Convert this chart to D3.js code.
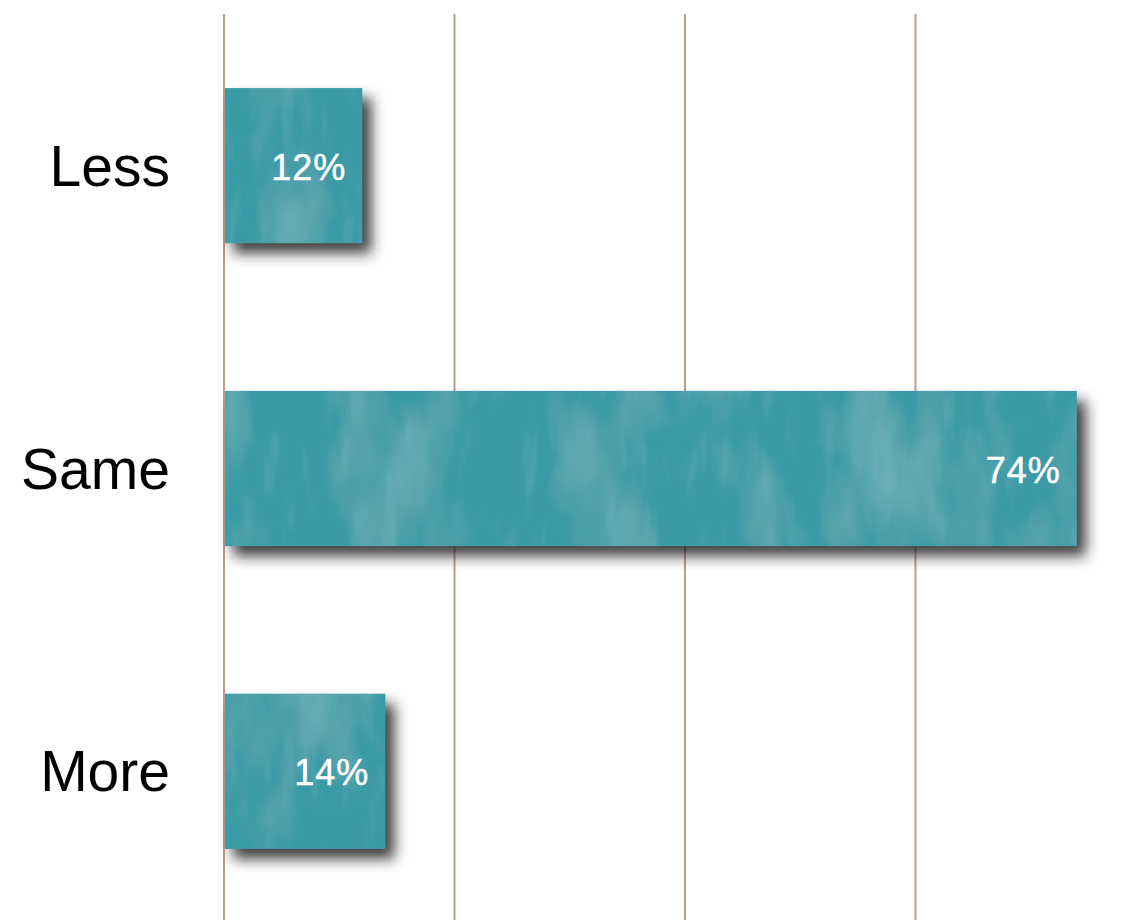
<!DOCTYPE html>
<html>
<head>
<meta charset="utf-8">
<script src="https://cdn.jsdelivr.net/npm/d3@7"></script>
<style>
  html, body { margin: 0; padding: 0; background: #ffffff; }
  svg { display: block; }
</style>
</head>
<body>
<svg id="chart" width="1132" height="920"></svg>
<script>
// Share of respondents per answer
const categories = ["Less", "Same", "More"];
const values = [12, 74, 14];
const valueLabels = ["12%", "74%", "14%"];
const gridTicks = [0, 20, 40, 60];

const W = 1132, H = 920;
const svg = d3.select("#chart");

const x = d3.scaleLinear().domain([0, 80]).range([224, 1146]);
const y = d3.scaleBand().domain(categories).range([14, 923])
  .paddingInner(0.4876).paddingOuter(0.2446);

const defs = svg.append("defs");

// Soft drop shadow behind each bar
const sh = defs.append("filter").attr("id", "shadow")
  .attr("x", "-20%").attr("y", "-30%").attr("width", "150%").attr("height", "170%");
sh.append("feGaussianBlur").attr("in", "SourceGraphic").attr("stdDeviation", 7);

// Painted brush-stroke texture over the teal fill
const tx = defs.append("filter").attr("id", "paint")
  .attr("x", "0").attr("y", "0").attr("width", "100%").attr("height", "100%")
  .attr("filterUnits", "objectBoundingBox");
tx.append("feTurbulence").attr("type", "fractalNoise")
  .attr("baseFrequency", "0.012 0.005").attr("numOctaves", 4).attr("seed", 7)
  .attr("result", "noise");
tx.append("feColorMatrix").attr("in", "noise").attr("type", "matrix")
  .attr("values", "0 0 0 0 0.45  0 0 0 0 0.72  0 0 0 0 0.72  0.7 0 0 0 -0.33")
  .attr("result", "light");
tx.append("feComposite").attr("in", "light").attr("in2", "SourceAlpha")
  .attr("operator", "in").attr("result", "lightClip");
tx.append("feTurbulence").attr("type", "turbulence")
  .attr("baseFrequency", "0.05 0.012").attr("numOctaves", 2).attr("seed", 3)
  .attr("result", "streak");
tx.append("feColorMatrix").attr("in", "streak").attr("type", "matrix")
  .attr("values", "0 0 0 0 0.18  0 0 0 0 0.50  0 0 0 0 0.55  0 0 0 0.5 -0.15")
  .attr("result", "dark");
tx.append("feComposite").attr("in", "dark").attr("in2", "SourceAlpha")
  .attr("operator", "in").attr("result", "darkClip");
const mg = tx.append("feMerge");
mg.append("feMergeNode").attr("in", "SourceGraphic");
mg.append("feMergeNode").attr("in", "darkClip");
mg.append("feMergeNode").attr("in", "lightClip");

// Vertical gridlines
svg.append("g").selectAll("line").data(gridTicks).join("line")
  .attr("x1", d => x(d)).attr("x2", d => x(d))
  .attr("y1", 14).attr("y2", H)
  .attr("stroke", "#b99d91").attr("stroke-width", 2);

const rows = categories.map((c, i) => ({ c, v: values[i], label: valueLabels[i] }));

// Shadows
svg.append("g").selectAll("rect").data(rows).join("rect")
  .attr("x", x(0) + 9).attr("y", d => y(d.c) + 10)
  .attr("width", d => x(d.v) - x(0)).attr("height", y.bandwidth())
  .attr("fill", "#1a1a1a").attr("opacity", 0.85)
  .attr("filter", "url(#shadow)");

// Bars
svg.append("g").selectAll("rect").data(rows).join("rect")
  .attr("x", x(0) + 1).attr("y", d => y(d.c))
  .attr("width", d => x(d.v) - x(0) - 1).attr("height", y.bandwidth())
  .attr("fill", "#3a9aa6")
  .attr("filter", "url(#paint)");

// Value labels inside bar ends
svg.append("g").selectAll("text").data(rows).join("text")
  .attr("x", d => x(d.v) - 16)
  .attr("y", d => y(d.c) + y.bandwidth() / 2 + 14)
  .attr("text-anchor", "end")
  .attr("fill", "#ffffff")
  .attr("font-family", "'Liberation Sans', Arial, sans-serif")
  .attr("font-size", 36)
  .attr("letter-spacing", 1)
  .attr("stroke", "#ffffff").attr("stroke-width", 0.5)
  .text(d => d.label);

// Category labels
svg.append("g").selectAll("text").data(rows).join("text")
  .attr("x", 170)
  .attr("y", d => y(d.c) + y.bandwidth() / 2 + 20)
  .attr("text-anchor", "end")
  .attr("fill", "#000000")
  .attr("font-family", "'Liberation Sans', Arial, sans-serif")
  .attr("font-size", 57)
  .text(d => d.c);
</script>
</body>
</html>
